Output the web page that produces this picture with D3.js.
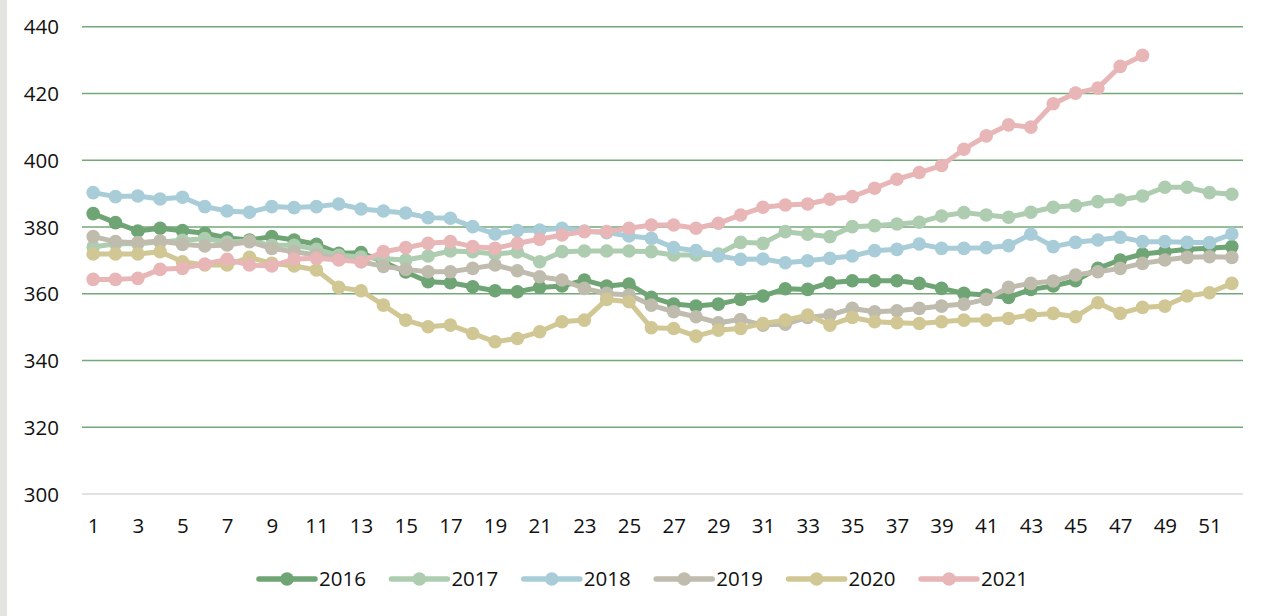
<!DOCTYPE html>
<html>
<head>
<meta charset="utf-8">
<script src="https://cdn.jsdelivr.net/npm/d3@7"></script>
<style>
  html, body { margin: 0; padding: 0; background: #ffffff; }
  svg { display: block; }
  text { font-family: "Open Sans", "Liberation Sans", sans-serif; fill: #111; }
</style>
</head>
<body>
<svg id="chart" width="1271" height="616"></svg>
<script>
// Weekly values per year
const weeks = d3.range(1, 53);
const years = ["2016", "2017", "2018", "2019", "2020", "2021"];

const s2016 = [384, 381.3, 378.8, 379.6, 378.9, 378.1, 376.7, 376.1, 377.1, 376.1, 374.8, 372.1, 372.3, 369.5, 366.5, 363.6, 363.3, 362.1, 360.9, 360.6, 361.9, 362.3, 364.1, 362.3, 362.9, 358.9, 356.9, 356.3, 356.9, 358.3, 359.3, 361.5, 361.3, 363.3, 363.9, 363.9, 363.9, 363.1, 361.6, 360.1, 359.6, 358.9, 361.3, 362.3, 363.9, 367.6, 370.1, 371.9, 372.6, 373.3, 373.6, 374.1];
const s2017 = [374, 375, 375, 375.5, 376, 376.5, 375.5, 375.8, 374.5, 374.5, 373.3, 371.5, 371, 370.5, 370.1, 371.3, 372.8, 372.6, 371.9, 372.5, 369.6, 372.6, 372.8, 372.8, 372.8, 372.6, 371.6, 371.6, 371.9, 375.4, 375.1, 378.6, 377.8, 377.1, 380.1, 380.4, 380.9, 381.4, 383.3, 384.3, 383.6, 382.9, 384.4, 385.9, 386.4, 387.6, 388.1, 389.3, 391.9, 391.9, 390.3, 389.8];
const s2018 = [390.3, 389.1, 389.3, 388.4, 388.9, 386.1, 384.8, 384.4, 386.1, 385.8, 386.1, 386.9, 385.4, 384.8, 384.2, 382.8, 382.6, 380.1, 377.9, 378.9, 379.1, 379.6, 378.8, 378.3, 377.3, 376.6, 373.8, 372.9, 371.3, 370.3, 370.4, 369.3, 369.9, 370.6, 371.3, 372.9, 373.3, 374.9, 373.6, 373.6, 373.8, 374.4, 377.8, 374.1, 375.4, 376.1, 376.9, 375.6, 375.6, 375.4, 375.3, 377.9];
const s2019 = [377.1, 375.6, 375.3, 375.8, 374.8, 374.3, 374.6, 375.6, 373.6, 372.6, 371.6, 370.6, 369.6, 368.2, 367.3, 366.6, 366.6, 367.6, 368.6, 366.9, 365.1, 364.1, 361.6, 360.1, 359.6, 356.6, 354.6, 353.1, 351.3, 352.3, 350.6, 350.9, 352.9, 353.6, 355.6, 354.6, 354.9, 355.6, 356.3, 356.9, 358.3, 361.9, 363.1, 363.8, 365.6, 366.6, 367.6, 369.1, 370.1, 370.9, 371.1, 370.9];
const s2020 = [371.9, 371.9, 371.9, 372.6, 369.6, 368.6, 368.6, 370.9, 369.1, 368.3, 367.1, 361.9, 360.9, 356.6, 352.1, 350.1, 350.6, 348.1, 345.6, 346.6, 348.6, 351.6, 352.1, 358.3, 357.6, 349.8, 349.6, 347.3, 349.1, 349.6, 351.1, 352.1, 353.6, 350.6, 352.9, 351.6, 351.3, 351.1, 351.6, 352.1, 352.1, 352.6, 353.6, 354.1, 353.1, 357.3, 354.1, 355.9, 356.3, 359.3, 360.3, 363.1];
const s2021 = [364.3, 364.3, 364.6, 367.3, 367.6, 368.9, 370.3, 368.6, 368.3, 370.4, 370.6, 370.1, 369.6, 372.6, 373.8, 375.1, 375.6, 374.1, 373.6, 375.1, 376.3, 377.6, 378.6, 378.6, 379.6, 380.6, 380.6, 379.6, 381.1, 383.6, 385.9, 386.6, 386.9, 388.3, 389.1, 391.6, 394.3, 396.3, 398.4, 403.3, 407.3, 410.6, 409.9, 416.9, 420.1, 421.6, 428.1, 431.4];

const seriesValues = [s2016, s2017, s2018, s2019, s2020, s2021];
const colors = ["#6fa474", "#aecdb0", "#a8cdd8", "#bfbcae", "#d0c794", "#e8b6b7"];
const yTicks = [300, 320, 340, 360, 380, 400, 420, 440];
const xTickLabels = weeks.filter(w => w % 2 === 1);

const svg = d3.select("#chart");

// Window frame strip on the left edge
svg.append("rect").attr("x", 0).attr("y", 0).attr("width", 7).attr("height", 616).attr("fill", "#e3e3df");

const plotLeft = 82, plotRight = 1243, plotTop = 26.7, plotBottom = 494;

const x = d3.scalePoint().domain(weeks).range([plotLeft, plotRight]).padding(0.5);
const y = d3.scaleLinear().domain([300, 440]).range([plotBottom, plotTop]);

// Horizontal gridlines
svg.append("g").selectAll("line")
  .data(yTicks)
  .join("line")
  .attr("x1", plotLeft).attr("x2", plotRight)
  .attr("y1", d => y(d)).attr("y2", d => y(d))
  .attr("stroke", d => d === 300 ? "#d9d9d9" : "#74a877")
  .attr("stroke-width", 1.6);

// Y axis labels
const yAxis = d3.axisLeft(y).tickValues(yTicks).tickSize(0).tickPadding(0);
const gy = svg.append("g").attr("transform", "translate(59,0)").call(yAxis);
gy.select(".domain").remove();
gy.selectAll("text").attr("font-size", 20.5).attr("dy", "0.35em").attr("x", 0)
  .style("font-family", '"Open Sans", sans-serif').attr("fill", "#111");

// X axis labels (odd weeks)
const xAxis = d3.axisBottom(x).tickValues(xTickLabels).tickSize(0).tickPadding(0);
const gx = svg.append("g").attr("transform", "translate(0,526)").call(xAxis);
gx.select(".domain").remove();
gx.selectAll("text").attr("font-size", 20.5).attr("dy", "0.35em").attr("y", 0)
  .style("font-family", '"Open Sans", sans-serif').attr("fill", "#111");

// Series lines with markers
const line = d3.line().x((d, i) => x(weeks[i])).y(d => y(d));
years.forEach((yr, k) => {
  const vals = seriesValues[k];
  const g = svg.append("g").attr("class", "series-" + yr);
  g.append("path")
    .attr("d", line(vals))
    .attr("fill", "none")
    .attr("stroke", colors[k])
    .attr("stroke-width", 5)
    .attr("stroke-linejoin", "round")
    .attr("stroke-linecap", "round");
  g.selectAll("circle")
    .data(vals)
    .join("circle")
    .attr("cx", (d, i) => x(weeks[i]))
    .attr("cy", d => y(d))
    .attr("r", 6.8)
    .attr("fill", colors[k]);
});

// Legend
const legend = svg.append("g").attr("transform", "translate(259,579)");
years.forEach((yr, k) => {
  const g = legend.append("g").attr("transform", `translate(${k * 132.4},0)`);
  g.append("line").attr("x1", 0).attr("x2", 56).attr("y1", 0).attr("y2", 0)
    .attr("stroke", colors[k]).attr("stroke-width", 5.5).attr("stroke-linecap", "round");
  g.append("circle").attr("cx", 28).attr("cy", 0).attr("r", 6.8).attr("fill", colors[k]);
  g.append("text").attr("x", 60).attr("y", 0).attr("dy", "0.35em")
    .attr("font-size", 20.5).text(yr);
});
</script>
</body>
</html>
